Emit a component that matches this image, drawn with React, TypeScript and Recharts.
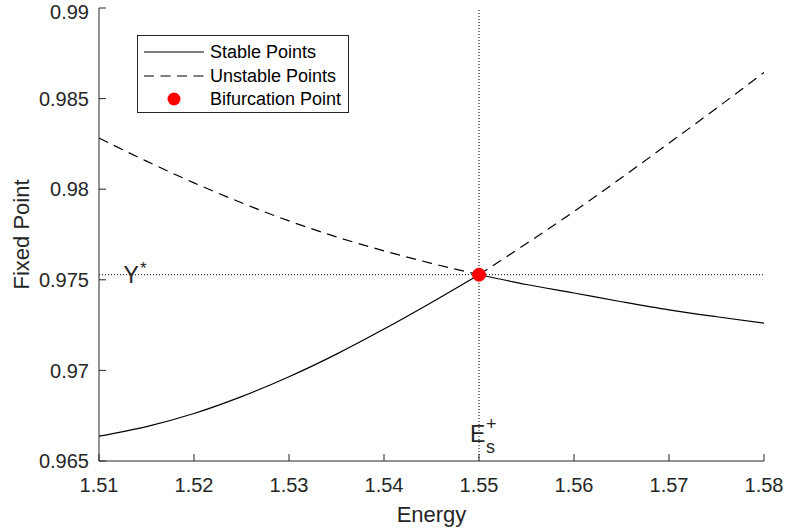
import React from 'react';
import {
  LineChart, Line, XAxis, YAxis, ReferenceLine, ReferenceDot, Legend,
} from 'recharts';

const FONT = '"Liberation Sans", Arial, sans-serif';
const INK = '#262626';

// energy grid, left and right of the bifurcation
const energyLeft = [1.51, 1.515, 1.52, 1.525, 1.53, 1.535, 1.54, 1.545, 1.55];
const energyRight = [1.55, 1.555, 1.56, 1.565, 1.57, 1.575, 1.58];

// fixed points
const stableLeft = [0.96637, 0.9669, 0.96762, 0.96855, 0.96965, 0.9709, 0.97228, 0.97375, 0.97528];
const unstableLeft = [0.98282, 0.98155, 0.98035, 0.97925, 0.97825, 0.97737, 0.9766, 0.97591, 0.97528];
const stableRight = [0.97528, 0.97474, 0.97427, 0.97379, 0.97334, 0.97296, 0.97261];
const unstableRight = [0.97528, 0.977, 0.97877, 0.98063, 0.98254, 0.98447, 0.98644];

const E_S = 1.55;
const Y_STAR = 0.97528;

const xTicks = [1.51, 1.52, 1.53, 1.54, 1.55, 1.56, 1.57, 1.58];
const yTicks = [0.965, 0.97, 0.975, 0.98, 0.985, 0.99];

const toPoints = (xs: number[], ys: number[]) => xs.map((x, i) => ({ x, y: ys[i] }));

const DASH = '10 6.5';
const DOTTED = '1 2';

const LegendBox = () => {
  const rows = [
    { label: 'Stable Points', kind: 'solid' },
    { label: 'Unstable Points', kind: 'dashed' },
    { label: 'Bifurcation Point', kind: 'dot' },
  ];
  return (
    <div style={{
      width: 210, height: 76, border: `1px solid ${INK}`, background: '#fff',
      fontFamily: FONT, fontSize: 18, color: '#000', position: 'relative',
    }}>
      {rows.map((r, i) => (
        <div key={r.label} style={{ position: 'absolute', left: 0, top: 4 + i * 23.5, height: 24, display: 'flex', alignItems: 'center' }}>
          <svg width={72} height={24} style={{ display: 'block' }}>
            {r.kind === 'dot'
              ? <circle cx={36} cy={12} r={6.5} fill="#ff0000" />
              : <line x1={6} x2={66} y1={12} y2={12} stroke="#000" strokeWidth={1.2}
                  strokeDasharray={r.kind === 'dashed' ? DASH : undefined} />}
          </svg>
          <span style={{ lineHeight: '24px' }}>{r.label}</span>
        </div>
      ))}
    </div>
  );
};

export default function App() {
  const tickStyle = { fontSize: 20, fill: INK, fontFamily: FONT };
  const axisLine = { stroke: INK, strokeWidth: 1 };
  return (
    <div style={{ position: 'absolute', left: 0, top: 0, background: '#fff' }}>
      <LineChart width={786} height={529} margin={{ top: 8, right: 22, left: 0, bottom: 0 }}
        style={{ fontFamily: FONT }}>
        <XAxis xAxisId="bottom" type="number" dataKey="x" domain={[1.51, 1.58]} ticks={xTicks}
          allowDataOverflow height={68} tick={tickStyle} tickSize={-7} tickMargin={24}
          axisLine={axisLine} tickLine={axisLine}
          label={({ viewBox }: any) => (
            <text x={viewBox.x + viewBox.width / 2} y={viewBox.y + 61} textAnchor="middle"
              fontSize={22} fill={INK} fontFamily={FONT}>Energy</text>
          )} />
        <XAxis xAxisId="top" orientation="top" type="number" dataKey="x" domain={[1.51, 1.58]}
          ticks={xTicks} allowDataOverflow height={0} tick={false} tickSize={-7}
          axisLine={axisLine} tickLine={axisLine} />
        <YAxis yAxisId="left" type="number" domain={[0.965, 0.99]} ticks={yTicks}
          allowDataOverflow width={99} tick={tickStyle} tickSize={-7} tickMargin={17}
          axisLine={axisLine} tickLine={axisLine}
          label={({ viewBox }: any) => {
            const cx = viewBox.x + 21;
            const cy = viewBox.y + viewBox.height / 2;
            return (
              <text x={cx} y={cy} transform={`rotate(-90 ${cx} ${cy})`} textAnchor="middle"
                dominantBaseline="central" fontSize={22} fill={INK} fontFamily={FONT}>Fixed Point</text>
            );
          }} />
        <YAxis yAxisId="right" orientation="right" type="number" domain={[0.965, 0.99]}
          ticks={yTicks} allowDataOverflow width={0} tick={false} tickSize={-7}
          axisLine={axisLine} tickLine={axisLine} />

        <ReferenceLine xAxisId="bottom" yAxisId="left" y={Y_STAR} stroke="#000" strokeDasharray={DOTTED}
          label={({ viewBox }: any) => (
            <g fontFamily={FONT} fill={INK}>
              <text x={viewBox.x + 24.5} y={viewBox.y + 8.5} fontSize={23}>Y</text>
              <text x={viewBox.x + 41} y={viewBox.y - 1} fontSize={17}>*</text>
            </g>
          )} />
        <ReferenceLine xAxisId="bottom" yAxisId="left" x={E_S} stroke="#000" strokeDasharray={DOTTED}
          label={({ viewBox }: any) => {
            const base = viewBox.y + viewBox.height;
            return (
              <g fontFamily={FONT} fill={INK}>
                <text x={viewBox.x - 9} y={base - 19.5} fontSize={23}>E</text>
                <text x={viewBox.x + 7} y={base - 31} fontSize={18}>+</text>
                <text x={viewBox.x + 7} y={base - 8.5} fontSize={18}>s</text>
              </g>
            );
          }} />

        <Line xAxisId="bottom" yAxisId="left" data={toPoints(energyLeft, stableLeft)} dataKey="y"
          type="monotone" stroke="#000" strokeWidth={1.2} dot={false} activeDot={false} isAnimationActive={false} />
        <Line xAxisId="bottom" yAxisId="left" data={toPoints(energyRight, stableRight)} dataKey="y"
          type="monotone" stroke="#000" strokeWidth={1.2} dot={false} activeDot={false} isAnimationActive={false} />
        <Line xAxisId="bottom" yAxisId="left" data={toPoints(energyLeft, unstableLeft)} dataKey="y"
          type="monotone" stroke="#000" strokeWidth={1.2} strokeDasharray={DASH} dot={false} activeDot={false}
          isAnimationActive={false} />
        <Line xAxisId="bottom" yAxisId="left" data={toPoints(energyRight, unstableRight)} dataKey="y"
          type="monotone" stroke="#000" strokeWidth={1.2} strokeDasharray={DASH} dot={false} activeDot={false}
          isAnimationActive={false} />

        <ReferenceDot xAxisId="bottom" yAxisId="left" x={E_S} y={Y_STAR} r={6.5} fill="#ff0000" stroke="#ff0000" />

        <Legend layout="vertical" align="center" verticalAlign="middle"
          wrapperStyle={{ left: 137, top: 35, width: 212, height: 78 }}
          content={() => <LegendBox />} />
      </LineChart>
    </div>
  );
}
